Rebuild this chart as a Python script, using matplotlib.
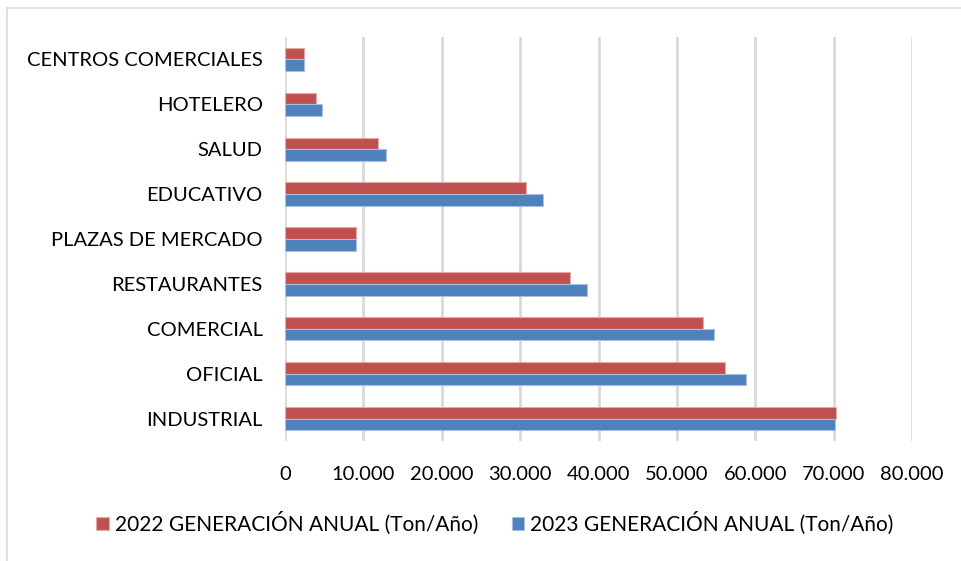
import matplotlib.pyplot as plt
import numpy as np

categorias = ["INDUSTRIAL", "OFICIAL", "COMERCIAL", "RESTAURANTES", "PLAZAS DE MERCADO",
              "EDUCATIVO", "SALUD", "HOTELERO", "CENTROS COMERCIALES"]
gen_2022 = [70240, 56120, 53280, 36400, 9100, 30740, 11900, 3950, 2400]
gen_2023 = [70150, 58800, 54760, 38480, 9100, 32950, 12900, 4760, 2400]
ticks = [0, 10000, 20000, 30000, 40000, 50000, 60000, 70000, 80000]
tick_labels = ["0", "10.000", "20.000", "30.000", "40.000", "50.000", "60.000", "70.000", "80.000"]

plt.rcParams['font.family'] = ['Lato', 'DejaVu Sans']

fig = plt.figure(figsize=(9.61, 5.61), dpi=100)
ax = fig.add_axes([285 / 961, 1 - 441 / 561, 627 / 961, 404 / 561])

y = np.arange(len(categorias))
h = 0.26
ax.barh(y + h / 2, gen_2022, height=h, color='#C0504D', edgecolor='#E6A9A7', linewidth=0.8,
        label='2022 GENERACIÓN ANUAL (Ton/Año)', zorder=3)
ax.barh(y - h / 2, gen_2023, height=h, color='#4F81BD', edgecolor='#A7C0DE', linewidth=0.8,
        label='2023 GENERACIÓN ANUAL (Ton/Año)', zorder=3)

ax.set_xlim(0, 80000)
ax.set_ylim(-0.5, len(categorias) - 0.5)
ax.set_xticks(ticks)
ax.set_xticklabels(tick_labels)
ax.set_yticks(y)
ax.set_yticklabels(categorias)
ax.tick_params(axis='both', length=0, labelsize=14.5, colors='black')
ax.tick_params(axis='x', pad=18)
ax.tick_params(axis='y', pad=16)
ax.grid(axis='x', color='#D9D9D9', linewidth=2, zorder=0)
for s in ax.spines.values():
    s.set_visible(False)

ax.legend(loc='center', bbox_to_anchor=(495 / 961, 1 - 523 / 561), bbox_transform=fig.transFigure,
          ncol=2, frameon=False, fontsize=15, handlelength=0.6, handleheight=0.6,
          handletextpad=0.3, columnspacing=1.6)

# chart border
fig.add_artist(plt.Line2D([7 / 961, 7 / 961], [0, 1 - 8 / 561], transform=fig.transFigure,
                          color='#D9D9D9', linewidth=1.2))
fig.add_artist(plt.Line2D([7 / 961, 1], [1 - 8 / 561, 1 - 8 / 561], transform=fig.transFigure,
                          color='#D9D9D9', linewidth=1.2))

fig.savefig('out.png', dpi=100)
